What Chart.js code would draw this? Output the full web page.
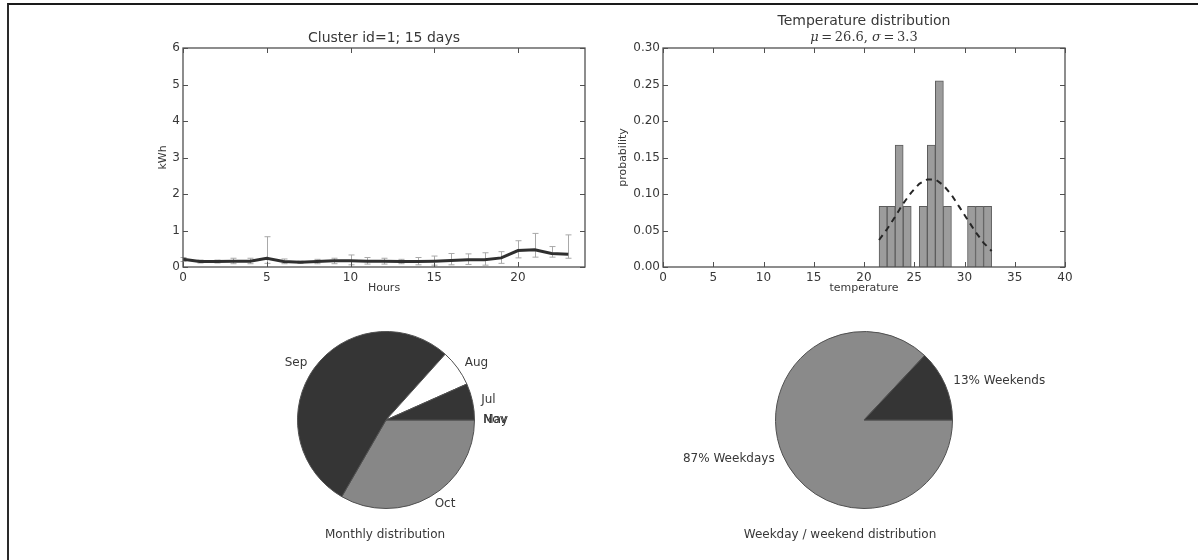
<!DOCTYPE html>
<html>
<head>
<meta charset="utf-8">
<title>Cluster id=1</title>
<script src="https://cdn.jsdelivr.net/npm/chart.js@4.4.1/dist/chart.umd.min.js"></script>
<style>
  body   { margin: 0; background: #fff; }
  #page  { position: relative; width: 1198px; height: 560px; overflow: hidden; }
  #frame { position: absolute; left: 7px; top: 3px; right: 0; bottom: 0;
           border-top: 2px solid #1a1a1a; border-left: 2px solid #2a2a2a; }
  canvas { position: absolute; }
</style>
</head>
<body>
<div id="page">
  <div id="frame"></div>
  <canvas id="loadChart"  width="480" height="300" style="left:120px; top:0"></canvas>
  <canvas id="tempChart"  width="480" height="300" style="left:600px; top:0"></canvas>
  <canvas id="monthChart" width="380" height="240" style="left:200px; top:315px"></canvas>
  <canvas id="weekChart"  width="420" height="240" style="left:660px; top:315px"></canvas>
</div>

<script>
// ------------------------------------------------------------
// data
// ------------------------------------------------------------
const hours   = [0, 1, 2, 3, 4, 5, 6, 7, 8, 9, 10, 11, 12, 13, 14, 15, 16, 17, 18, 19, 20, 21, 22, 23];
const kwhMean = [0.21, 0.15, 0.15, 0.16, 0.16, 0.24, 0.15, 0.13, 0.15, 0.17, 0.17, 0.16, 0.16, 0.15, 0.15, 0.16, 0.18, 0.20, 0.20, 0.25, 0.45, 0.47, 0.37, 0.35];
const kwhLow  = [0.15, 0.11, 0.11, 0.09, 0.09, 0.10, 0.09, 0.10, 0.09, 0.09, 0.06, 0.08, 0.08, 0.09, 0.06, 0.05, 0.06, 0.07, 0.05, 0.10, 0.25, 0.27, 0.27, 0.24];
const kwhHigh = [0.26, 0.19, 0.19, 0.24, 0.24, 0.83, 0.22, 0.16, 0.21, 0.24, 0.33, 0.26, 0.24, 0.21, 0.26, 0.30, 0.37, 0.36, 0.39, 0.42, 0.72, 0.92, 0.56, 0.88];

const tempBinCenters = [21.9, 22.7, 23.5, 24.3, 25.9, 26.7, 27.5, 28.3, 30.7, 31.5, 32.3];
const tempProb       = [0.083, 0.083, 0.167, 0.083, 0.083, 0.167, 0.255, 0.083, 0.083, 0.083, 0.083];
const fitX = [21.5, 22.3, 23.1, 23.9, 24.7, 25.5, 26.3, 27.1, 27.9, 28.7, 29.5, 30.3, 31.1, 31.9, 32.7];
const fitY = [0.037, 0.052, 0.069, 0.087, 0.102, 0.114, 0.120, 0.120, 0.112, 0.099, 0.082, 0.065, 0.048, 0.033, 0.022];

const monthLabels = ['Jul', 'Aug', 'Sep', 'Oct', 'Nov', 'May'];
const monthDays   = [1, 1, 8, 5, 0, 0];
const monthColors = ['#353535', '#ffffff', '#353535', '#878787', '#555555', '#555555'];

const weekLabels = ['13% Weekends', '87% Weekdays'];
const weekShare  = [13, 87];
const weekColors = ['#353535', '#8a8a8a'];

const FONT = '"DejaVu Sans", sans-serif';
const INK  = '#383838';

// ------------------------------------------------------------
// matplotlib-ish axes: box frame, inward ticks, titles
// ------------------------------------------------------------
const mplAxes = {
  id: 'mplAxes',
  afterDraw(chart, args, opts) {
    const { ctx, chartArea: a, scales } = chart;
    if (!opts.title || !scales.x || !scales.y) return;
    ctx.save();
    ctx.strokeStyle = '#505050';
    ctx.lineWidth = 1.3;
    ctx.strokeRect(a.left, a.top, a.right - a.left, a.bottom - a.top);

    ctx.lineWidth = 1;
    ctx.beginPath();
    scales.x.ticks.forEach(t => {
      const px = Math.round(scales.x.getPixelForValue(t.value)) + 0.5;
      ctx.moveTo(px, a.bottom); ctx.lineTo(px, a.bottom - 5);
      ctx.moveTo(px, a.top);    ctx.lineTo(px, a.top + 5);
    });
    scales.y.ticks.forEach(t => {
      const py = Math.round(scales.y.getPixelForValue(t.value)) + 0.5;
      ctx.moveTo(a.left, py);  ctx.lineTo(a.left + 5, py);
      ctx.moveTo(a.right, py); ctx.lineTo(a.right - 5, py);
    });
    ctx.stroke();

    const cx = (a.left + a.right) / 2;
    ctx.fillStyle = INK;
    ctx.textAlign = 'center';
    ctx.textBaseline = 'middle';
    ctx.font = '14px ' + FONT;
    ctx.fillText(opts.title, cx, opts.titleY);

    if (opts.subtitle) {
      // mathtext-like: italic greek, roman numbers
      const parts = opts.subtitle;
      let w = 0;
      parts.forEach(p => { ctx.font = p.f; w += ctx.measureText(p.t).width; });
      let x = cx - w / 2;
      ctx.textAlign = 'left';
      parts.forEach(p => { ctx.font = p.f; ctx.fillText(p.t, x, opts.subtitleY); x += ctx.measureText(p.t).width; });
      ctx.textAlign = 'center';
    }

    ctx.font = '11px ' + FONT;
    ctx.fillText(opts.xLabel, cx, a.bottom + 21);
    ctx.translate(opts.yLabelX, (a.top + a.bottom) / 2);
    ctx.rotate(-Math.PI / 2);
    ctx.fillText(opts.yLabel, 0, 0);
    ctx.restore();
  }
};

// vertical error bars for the hourly load line
const errorBars = {
  id: 'errorBars',
  beforeDatasetsDraw(chart, args, opts) {
    if (!opts.low) return;
    const { ctx, scales: { x, y } } = chart;
    ctx.save();
    ctx.strokeStyle = '#a9a9a9';
    ctx.lineWidth = 1;
    ctx.beginPath();
    opts.xs.forEach((v, i) => {
      const px = Math.round(x.getPixelForValue(v)) + 0.5;
      const lo = y.getPixelForValue(opts.low[i]);
      const hi = y.getPixelForValue(opts.high[i]);
      ctx.moveTo(px, lo); ctx.lineTo(px, hi);
      ctx.moveTo(px - 3, hi); ctx.lineTo(px + 3, hi);
      ctx.moveTo(px - 3, lo); ctx.lineTo(px + 3, lo);
    });
    ctx.stroke();
    ctx.restore();
  }
};

// pie labels at 1.1 r like matplotlib, plus caption under the pie
const pieLabels = {
  id: 'pieLabels',
  afterDraw(chart, args, opts) {
    if (!opts.labels) return;
    const { ctx } = chart;
    const arcs = chart.getDatasetMeta(0).data;
    ctx.save();
    ctx.fillStyle = INK;
    ctx.font = '12px ' + FONT;
    ctx.textBaseline = 'middle';
    arcs.forEach((arc, i) => {
      const mid = (arc.startAngle + arc.endAngle) / 2;
      const r = arc.outerRadius * 1.1;
      const c = Math.cos(mid);
      ctx.textAlign = c >= 0 ? 'left' : 'right';
      ctx.fillText(opts.labels[i], arc.x + r * c, arc.y + r * Math.sin(mid));
    });
    ctx.textAlign = 'center';
    ctx.fillText(opts.caption, opts.captionX, opts.captionY);
    ctx.restore();
  }
};

Chart.register(mplAxes, errorBars, pieLabels);

function axisOpts(min, max, step, fmt, fixW, fixH) {
  return {
    x: {
      type: 'linear', min: min[0], max: max[0], offset: false,
      grid: { display: false, drawTicks: false, tickLength: 0 }, border: { display: false },
      ticks: { stepSize: step[0], includeBounds: false, padding: 4, color: INK, font: { family: FONT, size: 12 } },
      afterFit(s) { s.height = fixH; }
    },
    y: {
      min: min[1], max: max[1],
      grid: { display: false, drawTicks: false, tickLength: 0 }, border: { display: false },
      ticks: { stepSize: step[1], padding: 3, color: INK, font: { family: FONT, size: 12 }, callback: fmt },
      afterFit(s) { s.width = fixW; }
    }
  };
}

// ------------------------------------------------------------
// hourly load
// ------------------------------------------------------------
new Chart(document.getElementById('loadChart'), {
  type: 'line',
  data: {
    datasets: [{
      data: hours.map((h, i) => ({ x: h, y: kwhMean[i] })),
      borderColor: '#2f2f2f', borderWidth: 3, pointRadius: 0, tension: 0
    }]
  },
  options: {
    responsive: false, animation: false, devicePixelRatio: 1, events: [],
    layout: { padding: { top: 48, right: 15, left: 0, bottom: 0 } },
    scales: axisOpts([0, 0], [24, 6], [5, 1], v => v, 63, 33),
    plugins: {
      legend: { display: false }, tooltip: { enabled: false },
      errorBars: { xs: hours, low: kwhLow, high: kwhHigh },
      mplAxes: { title: 'Cluster id=1; 15 days', titleY: 38, xLabel: 'Hours', yLabel: 'kWh', yLabelX: 43 }
    }
  }
});

// ------------------------------------------------------------
// temperature histogram + fitted normal
// ------------------------------------------------------------
const mathIt = 'italic 13px "DejaVu Serif", serif';
const mathRm = '13px "DejaVu Serif", serif';

new Chart(document.getElementById('tempChart'), {
  type: 'bar',
  data: {
    datasets: [{
      data: tempBinCenters.map((t, i) => ({ x: t, y: tempProb[i] })),
      backgroundColor: '#9c9c9c', borderColor: '#5c5c5c', borderWidth: 1,
      barPercentage: 1, categoryPercentage: 1, order: 2
    }, {
      type: 'line',
      data: fitX.map((t, i) => ({ x: t, y: fitY[i] })),
      borderColor: '#262626', borderWidth: 2, borderDash: [6, 5],
      pointRadius: 0, tension: 0, order: 1
    }]
  },
  options: {
    responsive: false, animation: false, devicePixelRatio: 1, events: [],
    layout: { padding: { top: 48, right: 15, left: 0, bottom: 0 } },
    scales: axisOpts([0, 0], [40, 0.3], [5, 0.05], v => v.toFixed(2), 63, 33),
    plugins: {
      legend: { display: false }, tooltip: { enabled: false },
      mplAxes: {
        title: 'Temperature distribution', titleY: 21,
        subtitle: [
          { t: 'μ', f: mathIt }, { t: '\u2009=\u200926.6, ', f: mathRm },
          { t: 'σ', f: mathIt }, { t: '\u2009=\u20093.3', f: mathRm }
        ],
        subtitleY: 38,
        xLabel: 'temperature', yLabel: 'probability', yLabelX: 23
      }
    }
  }
});

// ------------------------------------------------------------
// pies (matplotlib goes counter-clockwise from 3 o'clock,
// Chart.js clockwise, so feed the slices reversed)
// ------------------------------------------------------------
function pieChart(id, labels, values, colors, pad, caption, capX) {
  return new Chart(document.getElementById(id), {
    type: 'pie',
    data: {
      labels: labels.slice().reverse(),
      datasets: [{
        data: values.slice().reverse(),
        backgroundColor: colors.slice().reverse(),
        borderColor: '#505050', borderWidth: 1, hoverOffset: 0
      }]
    },
    options: {
      responsive: false, animation: false, devicePixelRatio: 1, events: [],
      rotation: 90,
      layout: { padding: pad },
      plugins: {
        legend: { display: false }, tooltip: { enabled: false },
        pieLabels: { labels: labels.slice().reverse(), caption: caption, captionX: capX, captionY: 220 }
      }
    }
  });
}

pieChart('monthChart', monthLabels, monthDays, monthColors,
  { left: 97, right: 105, top: 16, bottom: 46 }, 'Monthly distribution', 185);
pieChart('weekChart', weekLabels, weekShare, weekColors,
  { left: 115, right: 127, top: 16, bottom: 46 }, 'Weekday / weekend distribution', 180);
</script>
</body>
</html>
